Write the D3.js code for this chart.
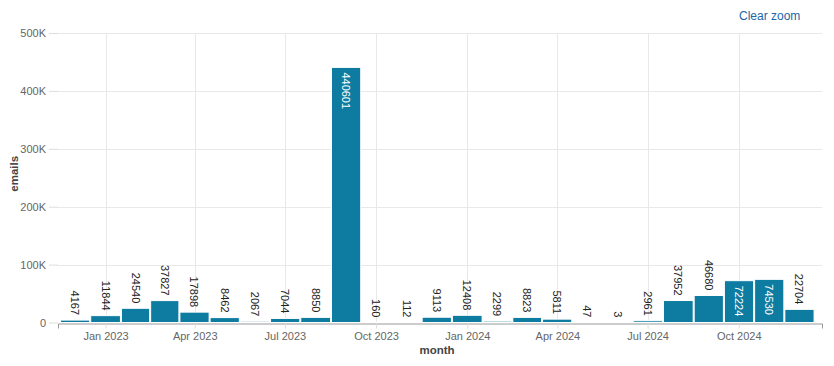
<!DOCTYPE html>
<html>
<head>
  <meta charset="utf-8">
  <title>Emails per month</title>
  <script src="https://d3js.org/d3.v7.min.js"></script>
  <style>
    body { margin: 0; background: #fff; font-family: "Liberation Sans", Arial, sans-serif; }
    .grid line { stroke: #e8e8e8; stroke-width: 1; }
    .axis text { fill: #666; font-size: 11px; }
    .axis-title { font-size: 11.5px; font-weight: bold; fill: #444; }
    .bar { fill: #0e7ba0; stroke: #fff; stroke-width: 1; }
    .label { font-size: 11px; }
    .clear { fill: #2166a8; font-size: 12px; }
  </style>
</head>
<body>
  <svg id="chart" width="834" height="366"></svg>

  <script>
    // Data
    const months = [
      "2022-12", "2023-01", "2023-02", "2023-03", "2023-04", "2023-05",
      "2023-06", "2023-07", "2023-08", "2023-09", "2023-10", "2023-11",
      "2023-12", "2024-01", "2024-02", "2024-03", "2024-04", "2024-05",
      "2024-06", "2024-07", "2024-08", "2024-09", "2024-10", "2024-11",
      "2024-12"
    ];
    const emails = [
      4167, 11844, 24540, 37827, 17898, 8462,
      2067, 7044, 8850, 440601, 160, 112,
      9113, 12408, 2299, 8823, 5811, 47,
      3, 2961, 37952, 46680, 72224, 74530,
      22704
    ];
    const yTicks = [0, 100000, 200000, 300000, 400000, 500000];

    const parse = d3.timeParse("%Y-%m");
    const data = months.map((m, i) => ({ date: parse(m), value: emails[i] }));

    const svg = d3.select("#chart");
    const margin = { left: 58, right: 12, top: 33, bottom: 44 };
    const width = 834, height = 366;

    // zoomed view, so the domain is a bit uneven
    const x = d3.scaleTime()
      .domain([new Date(2022, 10, 14), new Date(2024, 11, 24)])
      .range([margin.left, width - margin.right]);
    const y = d3.scaleLinear()
      .domain([0, 500000])
      .range([height - margin.bottom + 0.5, margin.top]);

    const xTicks = d3.timeMonth.every(3).range(new Date(2023, 0, 1), new Date(2024, 11, 2));

    // gridlines
    const grid = svg.append("g").attr("class", "grid");
    grid.selectAll(".gx").data(xTicks).enter().append("line")
      .attr("x1", d => Math.round(x(d)) + 0.5).attr("x2", d => Math.round(x(d)) + 0.5)
      .attr("y1", y(500000)).attr("y2", y(0));
    grid.selectAll(".gy").data(yTicks.slice(1)).enter().append("line")
      .attr("x1", margin.left).attr("x2", width - margin.right)
      .attr("y1", d => Math.round(y(d)) + 0.5).attr("y2", d => Math.round(y(d)) + 0.5);

    // bars centred on the month start
    const edge = d => (x(d3.timeMonth.offset(d, -1)) + x(d)) / 2;
    const bars = data.map(d => ({
      ...d,
      x0: edge(d.date),
      x1: edge(d3.timeMonth.offset(d.date, 1))
    }));

    svg.selectAll(".bar").data(bars).enter().append("rect")
      .attr("class", "bar")
      .attr("x", d => d.x0 + 0.5)
      .attr("width", d => d.x1 - d.x0 - 1)
      .attr("y", d => y(d.value))
      .attr("height", d => y(0) - y(d.value));

    // value labels, rotated; big bars get them inside
    svg.selectAll(".label").data(bars).enter().append("text")
      .attr("class", "label")
      .attr("transform", d => {
        const cx = (d.x0 + d.x1) / 2;
        const inside = d.value > 60000;
        const ty = inside ? y(d.value) + 5 : y(d.value) - 5;
        return `translate(${cx - 4},${ty}) rotate(90)`;
      })
      .attr("text-anchor", d => d.value > 60000 ? "start" : "end")
      .attr("fill", d => d.value > 60000 ? "#fff" : "#222")
      .text(d => d.value);

    // x axis
    const xAxis = svg.append("g")
      .attr("class", "axis")
      .attr("transform", `translate(0,${Math.round(y(0)) + 0.5})`)
      .call(d3.axisBottom(x).tickValues(xTicks).tickFormat(d3.timeFormat("%b %Y")).tickSizeOuter(0).tickSize(5).tickPadding(4));
    xAxis.select(".domain").attr("stroke", "#999");
    xAxis.selectAll(".tick line").attr("stroke", "#ddd");

    // y axis
    const yAxis = svg.append("g")
      .attr("class", "axis")
      .attr("transform", `translate(${margin.left},0)`)
      .call(d3.axisLeft(y).tickValues(yTicks)
        .tickFormat(d => d === 0 ? "0" : d3.format("~s")(d).toUpperCase())
        .tickSize(9).tickPadding(3));
    yAxis.select(".domain").remove();
    yAxis.selectAll(".tick line").attr("stroke", "#ddd");

    // axis titles
    svg.append("text").attr("class", "axis-title")
      .attr("x", (margin.left + width - margin.right) / 2 - 3)
      .attr("y", 354)
      .attr("text-anchor", "middle")
      .text("month");
    svg.append("text").attr("class", "axis-title")
      .attr("transform", `translate(18,${(y(0) + y(500000)) / 2 - 4}) rotate(-90)`)
      .attr("text-anchor", "middle")
      .text("emails");

    svg.append("text").attr("class", "clear")
      .attr("x", 739).attr("y", 20)
      .text("Clear zoom");
  </script>
</body>
</html>
